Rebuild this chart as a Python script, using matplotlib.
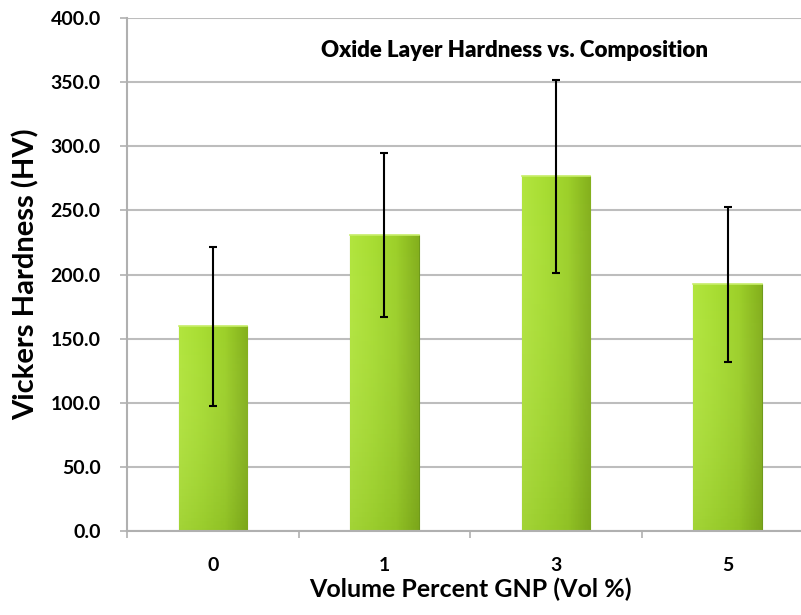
import numpy as np
import matplotlib.pyplot as plt
from matplotlib.colors import LinearSegmentedColormap

# Datos
categories = ['0', '1', '3', '5']
hardness = [159.5, 231.0, 276.5, 192.5]
errors = [62.0, 64.0, 75.0, 60.5]

plt.rcParams['font.family'] = ['Lato', 'DejaVu Sans']

fig = plt.figure(figsize=(8.01, 6.15), dpi=100)
ax = fig.add_axes([0.1586, 0.1366, 0.857, 0.8341])

x = np.arange(len(categories))
bars = ax.bar(x, hardness, width=0.40, color='#a3d832', edgecolor='#6f9a1c',
              linewidth=0.8, zorder=2)

# Degradado horizontal dentro de cada barra (claro a la izquierda, oscuro a la derecha)
cmap = LinearSegmentedColormap.from_list('g', ['#b2e53e', '#a8dd33', '#9dd02a', '#84b01d'])
grad = np.linspace(0, 1, 64).reshape(1, -1)
vgrad = np.linspace(0, 1, 64).reshape(-1, 1)
vcmap = LinearSegmentedColormap.from_list('v', [(0.3, 0.45, 0.05, 0.15), (1, 1, 1, 0)])
for b in bars:
    x0, w, h = b.get_x(), b.get_width(), b.get_height()
    im = ax.imshow(grad, cmap=cmap, aspect='auto', extent=[x0, x0 + w, 0, h],
                   zorder=2.1, interpolation='bicubic')
    im.set_clip_path(b)
    # ligero oscurecimiento hacia abajo
    im2 = ax.imshow(vgrad, cmap=vcmap, aspect='auto', extent=[x0, x0 + w, 0, h],
                    origin='lower', zorder=2.2)
    im2.set_clip_path(b)
    ax.plot([x0, x0 + w], [h, h], color='#c8ee6a', lw=1.2, zorder=2.3)

ax.errorbar(x, hardness, yerr=errors, fmt='none', ecolor='black', elinewidth=1.5,
            capsize=3, capthick=1.5, zorder=3)

ax.set_xlim(-0.5, len(categories) - 0.5)
ax.set_ylim(0, 400)
ax.set_yticks(np.arange(0, 401, 50))
ax.set_yticklabels([f'{v:.1f}' for v in np.arange(0, 401, 50)], fontsize=14, fontweight='bold')
ax.set_xticks(x)
ax.set_xticklabels(categories, fontsize=14, fontweight='bold')
ax.set_xticks(np.arange(-0.5, len(categories), 1), minor=True)
ax.tick_params(axis='x', which='major', length=0, pad=19)
ax.tick_params(axis='x', which='minor', length=5, color='#b0b0b0', width=1.2, direction='out')
ax.tick_params(axis='y', length=5, color='#b0b0b0', width=1.2, direction='out', pad=14)

ax.yaxis.grid(True, color='#bdbdbd', linewidth=1.5, zorder=0)
ax.set_axisbelow(True)
for s in ['top', 'right']:
    ax.spines[s].set_visible(False)
for s in ['left', 'bottom']:
    ax.spines[s].set_color('#b0b0b0')
    ax.spines[s].set_linewidth(1.5)

ax.set_ylabel('Vickers Hardness (HV)', fontsize=21, fontweight='bold', labelpad=8)
ax.set_xlabel('Volume Percent GNP (Vol %)', fontsize=18, fontweight='bold', labelpad=2)
ax.text(0.565, 0.937, 'Oxide Layer Hardness vs. Composition', transform=ax.transAxes,
        ha='center', va='center', fontsize=16, fontweight='heavy')

plt.savefig('out.png', dpi=100)
